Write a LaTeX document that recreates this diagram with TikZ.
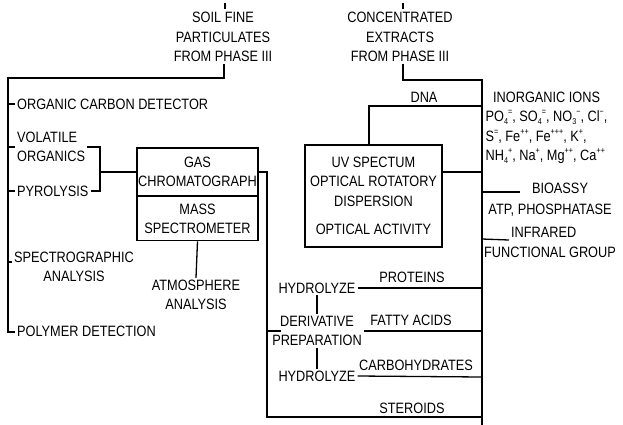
\documentclass[tikz,border=0pt]{standalone}
\usepackage{fontspec}
\setmainfont{Liberation Sans}[FakeStretch=0.85]
\newcommand\dgfont{\fontsize{15}{19.5}\selectfont}
\newcommand\ssb[2]{\raisebox{-0.5ex}{\fontsize{8.5}{8.5}\selectfont #1}\raisebox{0.85ex}{\fontsize{8.5}{8.5}\selectfont #2}}
\newcommand\ssp[1]{\raisebox{0.85ex}{\fontsize{8.5}{8.5}\selectfont #1}}
\begin{document}
\begin{tikzpicture}[x=1pt,y=-1pt, line width=1.3pt,
  txt/.style={inner sep=1.5pt, font=\dgfont, align=center},
  iontxt/.style={inner sep=1pt, font=\dgfont, anchor=base west},
  boxn/.style={draw, inner sep=0pt, font=\dgfont, align=center, minimum width=121pt}]
\useasboundingbox (0,0) rectangle (623,424);
% ---------- left group ----------
\node[txt] (soil) at (223,37) {SOIL FINE\\PARTICULATES\\FROM PHASE III};
\coordinate (soilT) at (225,3);
\coordinate (sB) at (224,78);
\coordinate (L0) at (8,78);
\coordinate (Lb) at (8,332);
\node[txt, anchor=west] (poly) at (15,331) {POLYMER DETECTION};
\node[txt, anchor=west] (ocd) at (15,104) {ORGANIC CARBON DETECTOR};
\node[txt, anchor=west, align=left] (vol) at (15,147) {VOLATILE\\ORGANICS};
\node[txt, anchor=west] (pyro) at (15,191) {PYROLYSIS};
\node[txt] (spec) at (74,267) {SPECTROGRAPHIC\\ANALYSIS};
\node[boxn, minimum height=48pt] (gc) at (197.5,172) {GAS\\CHROMATOGRAPH};
\node[boxn, minimum height=44pt, anchor=north, yshift=0.65pt] (ms) at (gc.south) {MASS\\SPECTROMETER};
\node[txt] (atm) at (196,295) {ATMOSPHERE\\ANALYSIS};
\coordinate (br1) at (100,147);
\coordinate (brm) at (100,172);

\draw (soilT) -- ++(0,6);
\draw (soil.south -| sB) -- (sB) -- (L0) -- (Lb) -- (poly.west |- Lb);
\draw (L0 |- ocd.west) -- (ocd.west);
\draw (L0 |- vol.west) -- (vol.west);
\draw (L0 |- pyro.west) -- (pyro.west);
\draw ([yshift=5pt]spec.west -| L0) -- ([yshift=5pt]spec.west);
\draw (vol.east) -- (br1) -- (br1 |- pyro.east) -- (pyro.east);
\draw (brm) -- (gc.west);
\draw (ms.south) -- (atm.north);

% ---------- right group ----------
\node[txt] (ce) at (400,37) {CONCENTRATED\\EXTRACTS\\FROM PHASE III};
\coordinate (ceT) at (403,3);
\coordinate (cB) at (403,80);
\coordinate (R0) at (482,80);
\coordinate (Rend) at (482,425);
\node[txt] (dna) at (424,97) {DNA};
\node[draw, inner sep=0pt, minimum width=137pt, minimum height=102pt, font=\dgfont, align=center] (uv) at (373.5,196)
  {UV SPECTUM\\OPTICAL ROTATORY\\DISPERSION\\[9pt]OPTICAL ACTIVITY};
\coordinate (dL) at (369,106);
\coordinate (R106) at (482,106);
\coordinate (R172) at (482,172);
\node[txt, anchor=west] (inorg) at (491,97) {INORGANIC IONS};
\node[iontxt] (ion1) at (484,121) {PO\ssb{4}{=}, SO\ssb{4}{=}, NO\ssb{3}{−}, Cl\ssp{−},};
\node[iontxt] (ion2) at (484,141) {S\ssp{=}, Fe\ssp{++}, Fe\ssp{+++}, K\ssp{+},};
\node[iontxt] (ion3) at (484,160) {NH\ssb{4}{+}, Na\ssp{+}, Mg\ssp{++}, Ca\ssp{++}};
\coordinate (R192) at (482,192);
\coordinate (bioL) at (520,192);
\node[txt] (bio) at (560,188) {BIOASSY};
\node[txt] (atp) at (550,210) {ATP, PHOSPHATASE};
\coordinate (R239) at (482,239);
\node[txt, anchor=south west] (ir) at (509,240) {INFRARED};
\node[txt] (fg) at (550,252) {FUNCTIONAL GROUP};

\draw (ceT) -- ++(0,6);
\draw (ce.south -| cB) -- (cB) -- (R0) -- (Rend);
\draw (R106) -- (dL) -- (dL |- uv.north);
\draw (uv.east |- R172) -- (R172);
\draw (R192) -- (bioL);
\draw (R239) -- (ir.south west);

% ---------- hydrolysis group ----------
\node[txt] (h1) at (317,288) {HYDROLYZE};
\node[txt] (prot) at (412,277) {PROTEINS};
\node[txt] (der) at (317,331) {DERIVATIVE\\PREPARATION};
\node[txt] (fat) at (411,320) {FATTY ACIDS};
\node[txt] (h2) at (317,376) {HYDROLYZE};
\node[txt] (carb) at (416,365) {CARBOHYDRATES};
\node[txt] (ster) at (412,408) {STEROIDS};
\coordinate (gR) at (267,172);
\coordinate (gB) at (267,417);
\coordinate (R417) at (482,417);
\coordinate (R288) at (482,288);
\coordinate (R331) at (482,331);
\coordinate (R377) at (482,377);
\coordinate (L331) at (267,331);
\coordinate (dL2) at (281,331);

\draw (gc.east) -- (gR) -- (gB) -- (R417);
\draw (h1.east) -- (R288);
\draw (h1.south) -- (der.north);
\draw (L331) -- (dL2);
\draw (der.east) -- (R331);
\draw (der.south) -- (h2.north);
\draw (h2.east) -- (R377);
\end{tikzpicture}
\end{document}
